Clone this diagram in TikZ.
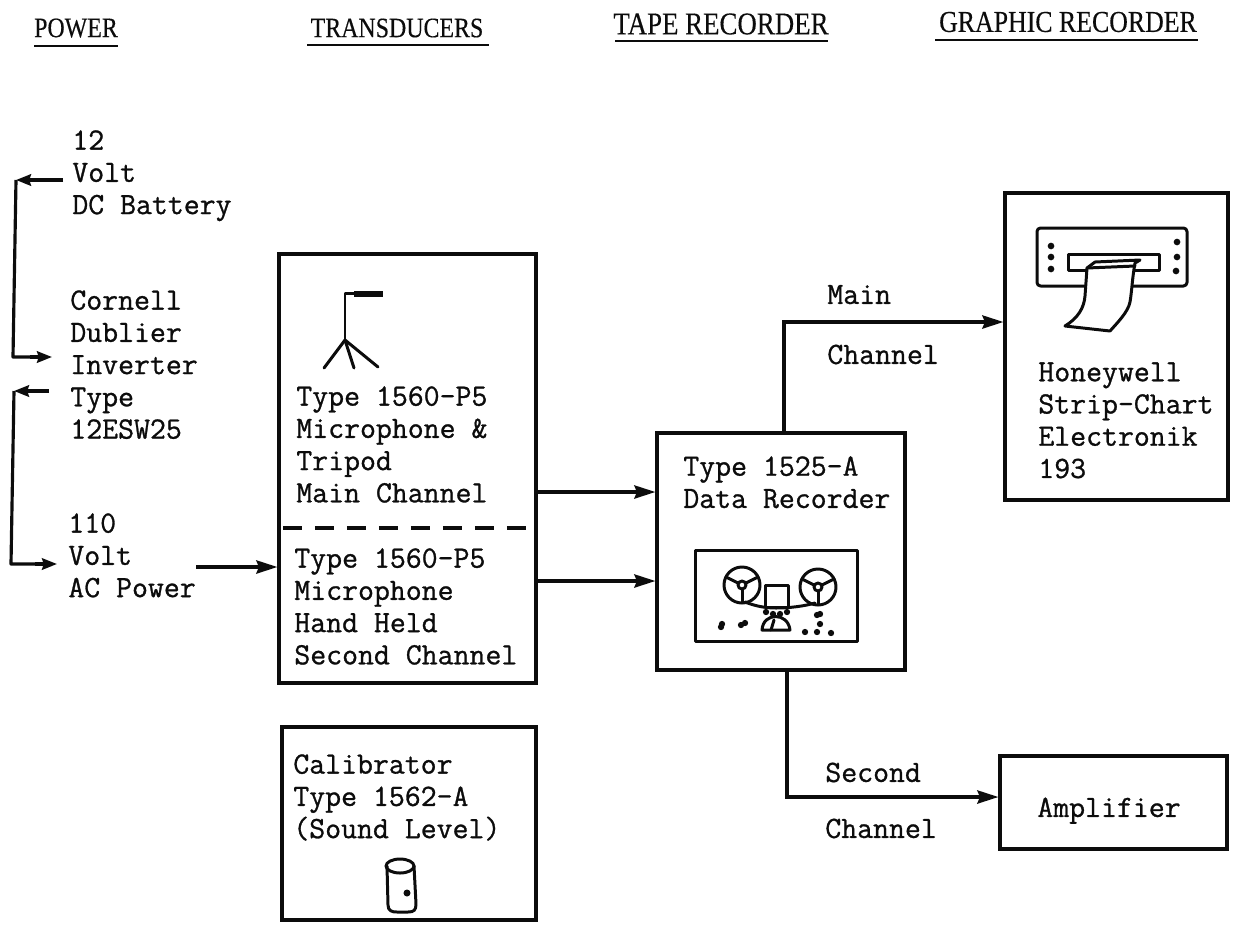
\documentclass[tikz,border=0pt]{standalone}
\usepackage{fontspec}
\setmonofont[FakeBold=0.9]{Latin Modern Mono}
\newfontfamily\headfont[FakeStretch=0.85,FakeBold=0.3]{Liberation Serif}
\usepackage{xcolor}
\usetikzlibrary{arrows.meta, positioning, calc, fit}
\definecolor{inkblack}{RGB}{12,12,12}
\tikzset{
  lbl/.style={font=\fontsize{17.6}{18.35}\selectfont\ttfamily, align=left, anchor=north west, inner sep=0pt, text=inkblack, execute at begin node=\strut},
  head/.style={inner sep=0pt, text=inkblack},
  box/.style={draw=inkblack, line width=1.8pt, inner sep=0pt},
  wire/.style={draw=inkblack, line width=1.8pt, -{Stealth[length=12pt,width=7.5pt,inset=1.5pt]}},
  shortwire/.style={draw=inkblack, line width=1.8pt, -{Stealth[length=8.5pt,width=6.5pt,inset=1pt]}},
  plainwire/.style={draw=inkblack, line width=1.8pt, line join=round},
  sketch/.style={draw=inkblack, line width=1.7pt, line join=round, line cap=round},
  rule/.style={draw=inkblack, line width=1.6pt},
}
\begin{document}
\begin{tikzpicture}[x=0.02cm, y=-0.02cm]
  \useasboundingbox (0,0) rectangle (1233,924);
  % column headings
  \node[head, font=\fontsize{16}{18}\selectfont\headfont] (hpower) at (76,28) {POWER};
  \node[head, font=\fontsize{16}{18}\selectfont\headfont] (htrans) at (397,28) {TRANSDUCERS};
  \node[head, font=\fontsize{18}{20}\selectfont\headfont] (htape) at (721,24) {TAPE RECORDER};
  \node[head, font=\fontsize{17.3}{20}\selectfont\headfont] (hgraph) at (1068,22) {GRAPHIC RECORDER};
  \draw[rule] (34,46) -- (118,46);
  \draw[rule] (307,45) -- (489,45);
  \draw[rule] (615,41) -- (828,41);
  \draw[rule] (935,40) -- (1198,40);
  % power column
  \node[lbl] (batt) at (72,130) {12\\Volt\\DC Battery};
  \node[lbl] (inv) at (70,290) {Cornell\\Dublier\\Inverter\\Type\\12ESW25};
  \node[lbl] (ac) at (68,513) {110\\Volt\\AC Power};
  \coordinate (battout) at (63,180);
  \coordinate (battcorner) at (16,180);
  \coordinate (invin) at (52,357);
  \coordinate (invout) at (49,391);
  \coordinate (invcorner) at (14,391);
  \coordinate (acin) at (57,564);
  \coordinate (acout) at (196,567);
  \draw[shortwire] (battout) -- (battcorner);
  \draw[plainwire] (battcorner) -- (13,357) -- (30,357);
  \draw[shortwire] (30,357) -- (invin);
  \draw[shortwire] (invout) -- (invcorner);
  \draw[plainwire] (invcorner) -- (11,564) -- (35,564);
  \draw[shortwire] (35,564) -- (acin);
  % boxes
  \node[box, fit={(279,254) (536,683)}] (transbox) {};
  \node[box, fit={(282,727) (536,920)}] (calbox) {};
  \node[box, fit={(657,433) (905,670)}] (recbox) {};
  \node[box, fit={(1005,193) (1228,500)}] (graphbox) {};
  \node[box, fit={(1000,756) (1227,849)}] (ampbox) {};
  \draw[plainwire, dash pattern=on 10.8pt off 7.4pt] (283,528) -- (transbox.east |- 0,528);
  % box labels
  \node[lbl] (mic) at (296,386) {Type 1560-P5\\Microphone \&\\Tripod\\Main Channel};
  \node[lbl] (hand) at (294,548) {Type 1560-P5\\Microphone\\Hand Held\\Second Channel};
  \node[lbl] (cal) at (293,754) {Calibrator\\Type 1562-A\\(Sound Level)};
  \node[lbl] (rec) at (683,456) {Type 1525-A\\Data Recorder};
  \node[lbl] (honey) at (1038,362) {Honeywell\\Strip-Chart\\Electronik\\193};
  \node[lbl] (amp) at (1037,794) {Amplifier};
  \node[lbl] (mainlbl) at (827,281) {Main};
  \node[lbl] (mainlblb) at (827,341) {Channel};
  \node[lbl] (seclbl) at (825,759) {Second};
  \node[lbl] (seclblb) at (825,815) {Channel};
  % connectors
  \draw[wire] (acout) -- (acout -| transbox.west);
  \draw[wire] (transbox.east |- 0,492) -- (recbox.west |- 0,492);
  \draw[wire] (transbox.east |- 0,581) -- (recbox.west |- 0,581);
  \draw[wire] (784,433) |- (graphbox.west |- 0,322);
  \draw[wire] (787,670) |- (ampbox.west |- 0,797);
  % tripod
  \draw[sketch] (354,293) -- (345,293) -- (345,340);
  \draw[sketch] (324,368) -- (345,340) -- (378,367);
  \draw[sketch] (345,340) -- (354,368);
  \draw[sketch, line width=3pt, line cap=butt] (354,294) -- (383,294);
  % tape deck
  \draw[sketch] (695,550) rectangle (857,641);
  \draw[sketch] (765,585) rectangle (788,607);
  \foreach \cx/\cy in {742/585, 818/587} {
    \draw[sketch] (\cx,\cy) circle (18);
    \draw[sketch] (\cx,\cy) circle (4);
    \draw[sketch] (\cx-4,\cy-2) -- (\cx-16,\cy-8);
    \draw[sketch] (\cx+4,\cy-2) -- (\cx+16,\cy-8);
    \draw[sketch] (\cx,\cy+4) -- (\cx,\cy+17);
  }
  \draw[sketch] (745,602) .. controls (755,606) and (765,608) .. (776,608) .. controls (790,608) and (805,606) .. (815,603);
  \draw[sketch] (762,630) .. controls (763,612) and (788,612) .. (790,630) -- cycle;
  \draw[sketch] (771,630) -- (774,620);
  \foreach \x/\y in {766/612, 773/614, 780/614, 787/612, 722/624, 721/627, 741/625, 745/623, 817/615, 820/614, 820/624, 817/632, 805/632, 831/633} {
    \fill[inkblack] (\x,\y) circle (1.8pt);
  }
  % strip chart
  \draw[sketch, rounded corners=2pt] (1037,228) rectangle (1187,286);
  \draw[sketch] (1068,254) rectangle (1159,270);
  \draw[sketch, fill=white] (1087,268) -- (1095,262) -- (1140,260) -- (1135,263) .. controls (1132,280) and (1132,290) .. (1130,302) .. controls (1128,312) and (1118,322) .. (1110,331) -- (1065,326) .. controls (1078,318) and (1084,308) .. (1085,296) -- cycle;
  \draw[sketch] (1087,268) -- (1135,266);
  \foreach \x/\y in {1051/246, 1051/257, 1051/269, 1177/242, 1177/257, 1176/271} {
    \fill[inkblack] (\x,\y) circle (1.9pt);
  }
  % calibrator can
  \draw[sketch] (400,866) ellipse (14 and 7);
  \draw[sketch] (387,866) -- (388,905) .. controls (388,911) and (392,912) .. (397,912) -- (408,912) .. controls (414,912) and (416,910) .. (416,904) -- (414,866);
  \fill[inkblack] (407,893) circle (2pt);
\end{tikzpicture}
\end{document}
